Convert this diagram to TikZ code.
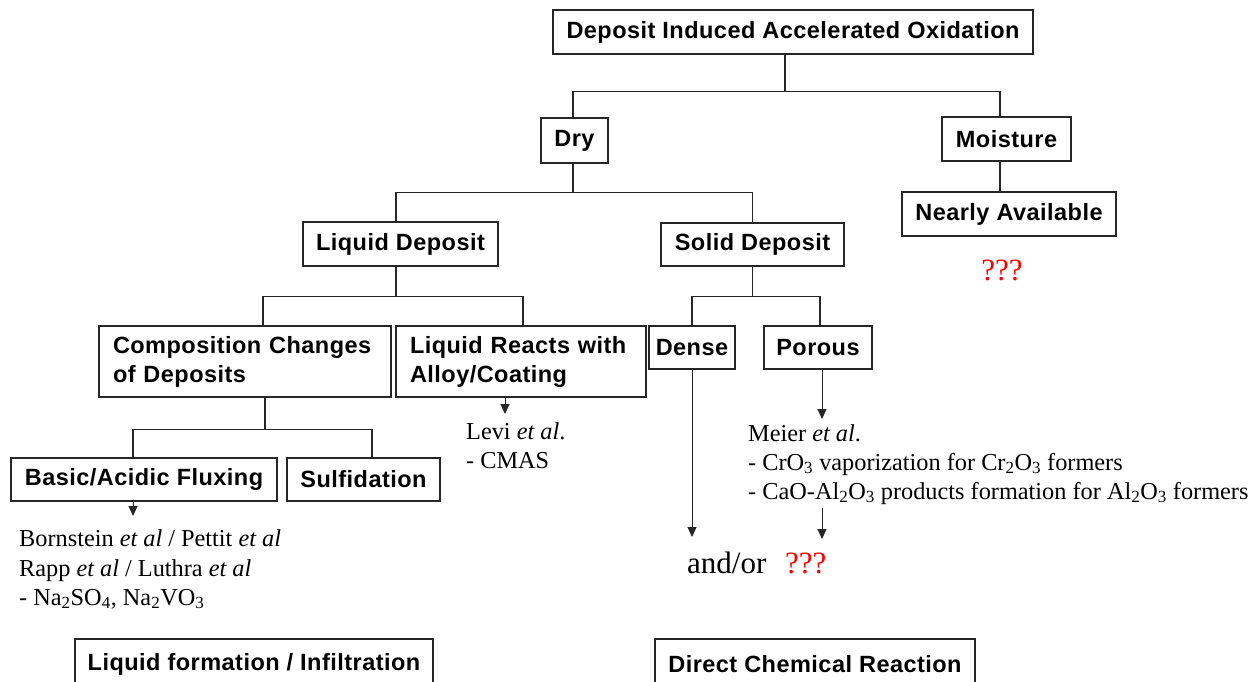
\documentclass[tikz,border=0pt]{standalone}
\usepackage{fontspec}
\setmainfont{Liberation Serif}
\newfontfamily\boxfont[LetterSpace=2.0]{Liberation Sans}
\usetikzlibrary{arrows.meta}
\begin{document}
\begin{tikzpicture}[x=1pt,y=-1pt,
  box/.style={draw=black!85, line width=1.4pt, inner sep=0pt, text=black,
    font=\boxfont\bfseries\fontsize{23.5}{29}\selectfont},
  conn/.style={draw=black!85, line width=1.4pt},
  arr/.style={draw=black!85, line width=1pt, -{Triangle[length=10pt,width=9pt]}},
  reftext/.style={anchor=base west, inner sep=0pt, font=\fontsize{24.3}{29}\selectfont},
  qq/.style={text=red, inner sep=0pt, font=\fontsize{31}{36}\selectfont}]
\useasboundingbox (0,0) rectangle (1251,681);
\fill[white] (0,0) rectangle (1251,681);

% boxes
\node[box, minimum width=480pt, minimum height=44pt] (top) at (793,32) {Deposit Induced Accelerated Oxidation};
\node[box, minimum width=67pt, minimum height=45pt] (dry) at (574.5,140.5) {Dry};
\node[box, minimum width=129pt, minimum height=44pt] (moist) at (1006.5,139) {Moisture};
\node[box, minimum width=214pt, minimum height=44pt] (nearly) at (1009,214) {Nearly Available};
\node[box, minimum width=195pt, minimum height=44pt] (liq) at (400.5,244) {Liquid Deposit};
\node[box, minimum width=183pt, minimum height=43pt] (solid) at (752.5,244.5) {Solid Deposit};
\node[box, minimum width=292pt, minimum height=71pt, text width=264pt, align=left] (comp) at (245,361.5) {Composition Changes\\of Deposits};
\node[box, minimum width=250pt, minimum height=71pt, text width=222pt, align=left] (react) at (521,361.5) {Liquid Reacts with\\Alloy/Coating};
\node[box, minimum width=86pt, minimum height=43pt] (dense) at (692,347.5) {Dense};
\node[box, minimum width=108pt, minimum height=43pt] (porous) at (818,347.5) {Porous};
\node[box, minimum width=266pt, minimum height=43pt] (basic) at (144,479.5) {Basic/Acidic Fluxing};
\node[box, minimum width=153pt, minimum height=43pt] (sulf) at (363.5,479.5) {Sulfidation};
\node[box, minimum width=358pt, minimum height=50pt] (liqform) at (254,664) {Liquid formation / Infiltration};
\node[box, minimum width=320pt, minimum height=50pt] (direct) at (815,664) {Direct Chemical Reaction};

% tree connectors
\draw[conn] ([xshift=-8pt]top.south) -- ++(0,37) coordinate (j1);
\draw[conn] (j1) -| ([xshift=-1.5pt]dry.north);
\draw[conn] (j1) -| ([xshift=-6.5pt]moist.north);
\draw[conn] ([xshift=-1.5pt]dry.south) -- ++(0,29) coordinate (j2);
\draw[conn] (j2) -| ([xshift=-4.5pt]liq.north);
\draw[conn] (j2) -| (solid.north);
\draw[conn] ([xshift=-6.5pt]moist.south) -- ([xshift=-6.5pt]moist.south |- nearly.north);
\draw[conn] ([xshift=-4.5pt]liq.south) -- ++(0,30) coordinate (j3);
\draw[conn] (j3) -| ([xshift=18pt]comp.north);
\draw[conn] (j3) -| ([xshift=2pt]react.north);
\draw[conn] (solid.south) -- ++(0,30) coordinate (j4);
\draw[conn] (j4) -| (dense.north);
\draw[conn] (j4) -| ([xshift=2pt]porous.north);
\draw[conn] ([xshift=20pt]comp.south) -- ++(0,32) coordinate (j5);
\draw[conn] (j5) -| ([xshift=-11pt]basic.north);
\draw[conn] (j5) -| ([xshift=8.5pt]sulf.north);

% texts
\node[reftext] (levi1) at (466,439) {Levi \textit{et al}.};
\node[reftext] (levi2) at (466,468) {- CMAS};
\node[reftext] (b1) at (19,546) {Bornstein \textit{et al} / Pettit \textit{et al}};
\node[reftext] (b2) at (19,576) {Rapp \textit{et al} / Luthra \textit{et al}};
\node[reftext] (b3) at (19,605) {- Na\textsubscript{2}SO\textsubscript{4}, Na\textsubscript{2}VO\textsubscript{3}};
\node[reftext] (m1) at (748,441) {Meier \textit{et al}.};
\node[reftext] (m2) at (748,470) {- CrO\textsubscript{3} vaporization for Cr\textsubscript{2}O\textsubscript{3} formers};
\node[reftext] (m3) at (748,499) {- CaO-Al\textsubscript{2}O\textsubscript{3} products formation for Al\textsubscript{2}O\textsubscript{3} formers};
\node[anchor=base west, inner sep=0pt, font=\fontsize{31}{36}\selectfont] (andor) at (687,573) {and/or};
\node[qq, anchor=base west] (q2) at (785,573) {???};
\node[qq, anchor=base] (q1) at (1002,280) {???};

% arrows
\coordinate (a1) at (133,516);
\draw[arr] (basic.south -| a1) -- (a1);
\coordinate (a2) at (505,414);
\draw[arr] (react.south -| a2) -- (a2);
\coordinate (a3) at (692,537);
\draw[arr] (dense.south) -- (a3);
\coordinate (a4) at (822,419);
\draw[arr] (porous.south -| a4) -- (a4);
\coordinate (a5s) at (822,508);
\coordinate (a5) at (822,539);
\draw[arr] (a5s) -- (a5);
\end{tikzpicture}
\end{document}
